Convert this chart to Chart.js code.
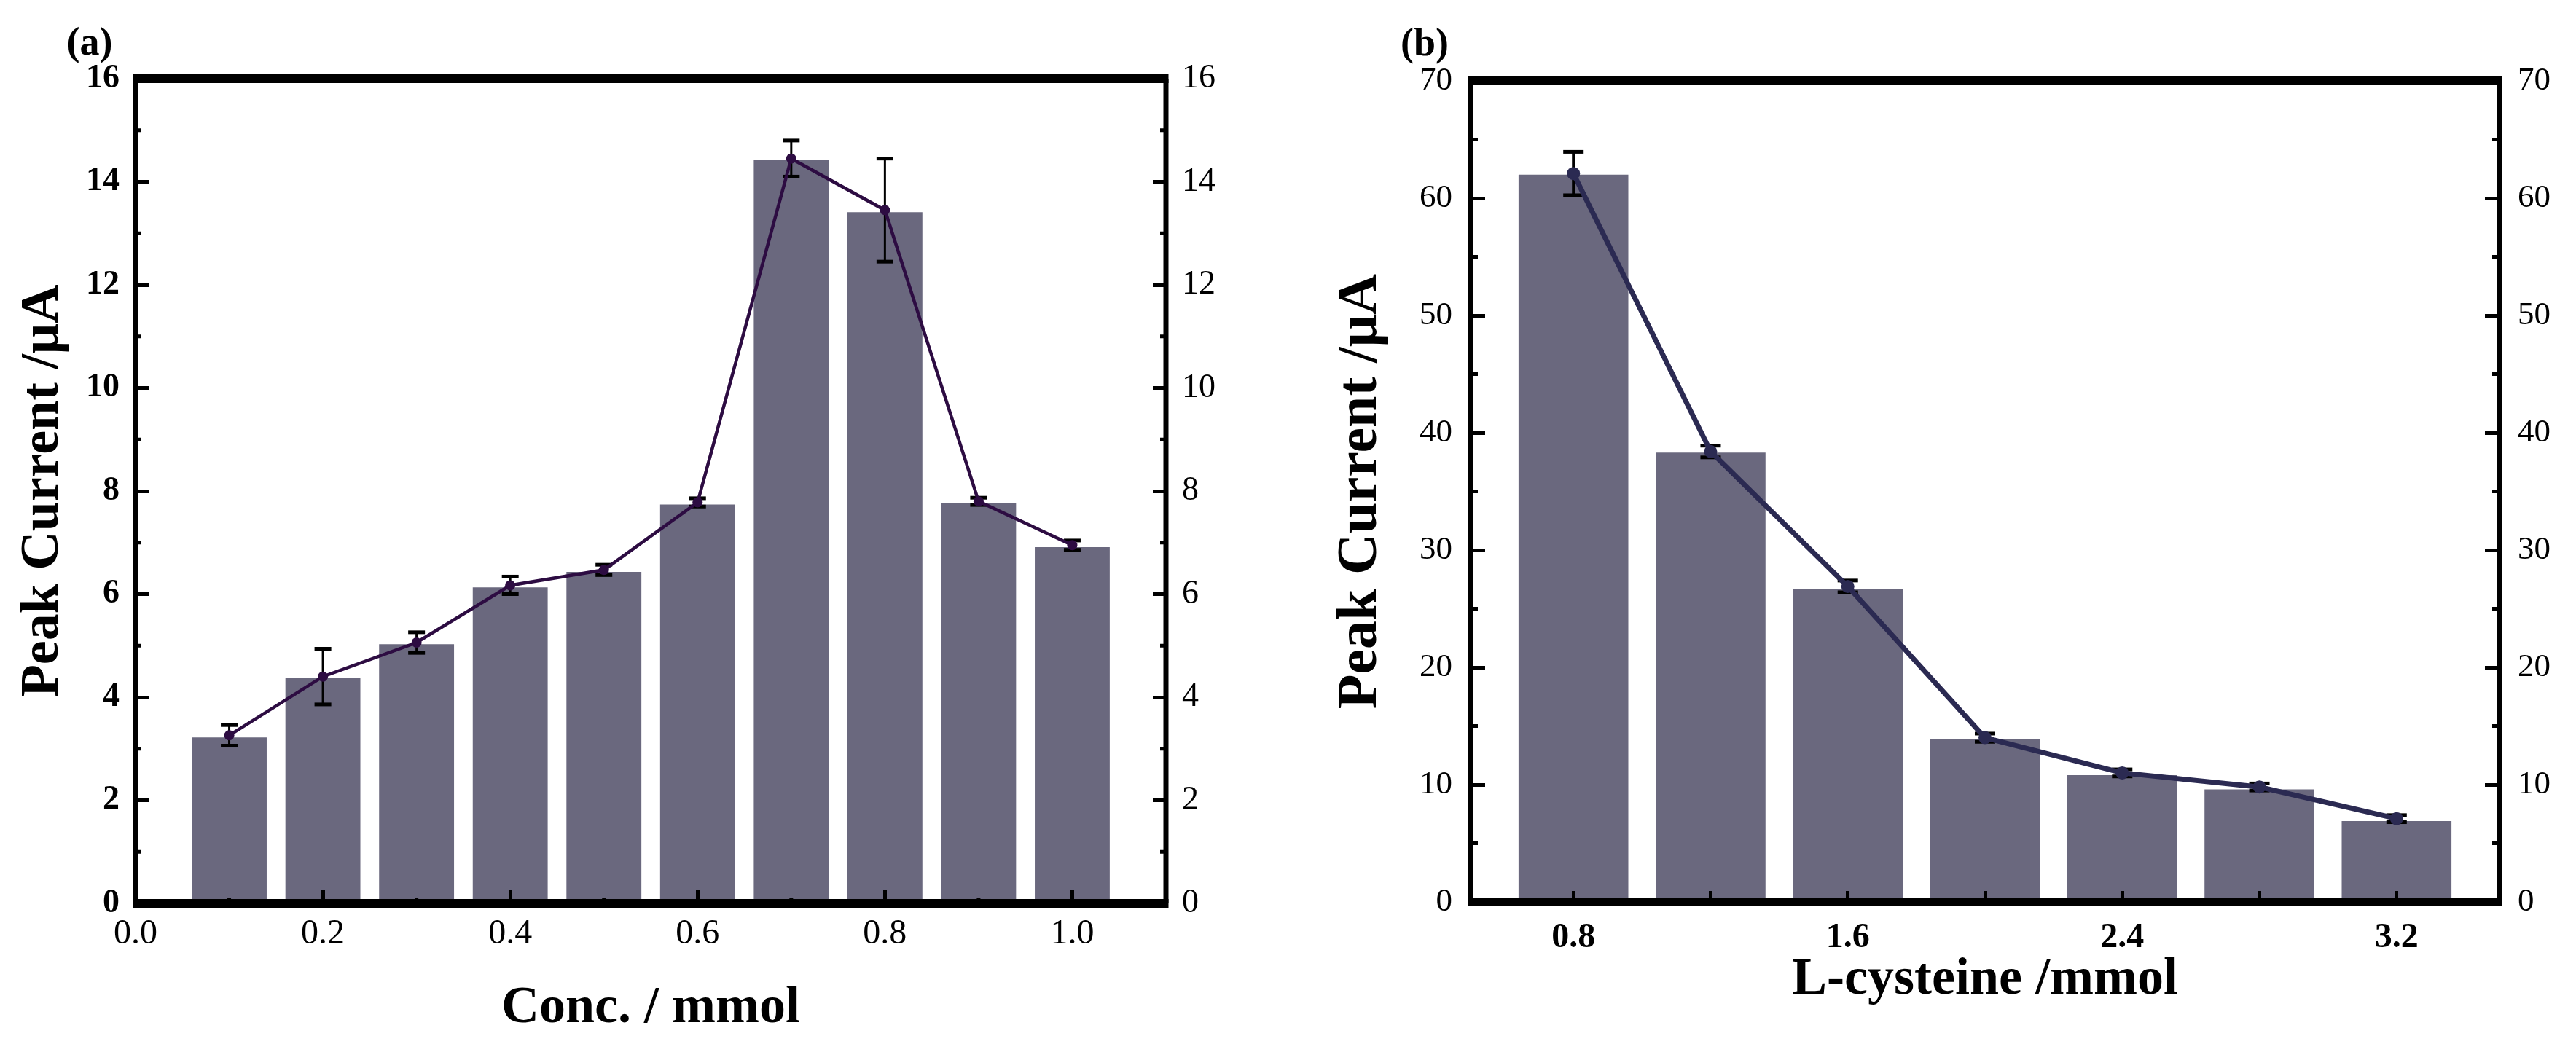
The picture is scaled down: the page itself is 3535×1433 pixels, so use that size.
<!DOCTYPE html>
<html>
<head>
<meta charset="utf-8">
<script src="https://cdn.jsdelivr.net/npm/chart.js@4.4.1/dist/chart.umd.min.js"></script>
<style>
  html, body { margin: 0; padding: 0; background: #fff; }
  #wrap { position: relative; width: 3535px; height: 1433px; overflow: hidden; }
  canvas { position: absolute; top: 0; }
  #chartA { left: 0; }
  #chartB { left: 1768px; }
</style>
</head>
<body>
<div id="wrap">
  <canvas id="chartA" width="1768" height="1433"></canvas>
  <canvas id="chartB" width="1767" height="1433"></canvas>
</div>
<script>
// (a) peak current vs. concentration
const concA = [0.1, 0.2, 0.3, 0.4, 0.5, 0.6, 0.7, 0.8, 0.9, 1.0];
const barA = [3.22, 4.37, 5.03, 6.13, 6.43, 7.74, 14.42, 13.41, 7.77, 6.91];
const lineA = [3.26, 4.40, 5.06, 6.17, 6.47, 7.78, 14.45, 13.45, 7.80, 6.95];
const errA = [0.20, 0.54, 0.20, 0.17, 0.10, 0.08, 0.35, 1.00, 0.07, 0.09];
const xTicksA = ['0.0', '0.2', '0.4', '0.6', '0.8', '1.0'];
const yTicksA = [0, 2, 4, 6, 8, 10, 12, 14, 16];

// (b) peak current vs. L-cysteine
const cysB = [0.8, 1.2, 1.6, 2.0, 2.4, 2.8, 3.2];
const barB = [62.0, 38.3, 26.7, 13.9, 10.8, 9.6, 6.9];
const lineB = [62.1, 38.4, 26.9, 14.0, 11.0, 9.8, 7.1];
const errB = [1.85, 0.50, 0.50, 0.35, 0.30, 0.30, 0.30];
const xTicksB = ['0.8', '1.6', '2.4', '3.2'];
const yTicksB = [0, 10, 20, 30, 40, 50, 60, 70];

const SERIF = "'Liberation Serif', 'Times New Roman', serif";
const BAR_COLOR = '#6a687e';

// frame, minor ticks, panel label and error bars
const framePlugin = {
  id: 'frame',
  beforeDatasetDraw(chart, args, opts) {
    const ds = chart.data.datasets[args.index];
    if (!ds.errorBars) return;
    const yScale = chart.scales[args.meta.yAxisID];
    const ctx = chart.ctx;
    ctx.save();
    ctx.strokeStyle = '#000';
    ctx.fillStyle = '#000';
    ctx.lineWidth = opts.errWidth;
    args.meta.data.forEach((el, i) => {
      const v = ds.data[i].y;
      const e = ds.errorBars[i];
      const yTop = yScale.getPixelForValue(v + e);
      const yBot = yScale.getPixelForValue(v - e);
      ctx.beginPath();
      ctx.moveTo(el.x, yTop);
      ctx.lineTo(el.x, yBot);
      ctx.stroke();
      const cw = opts.capWidth;
      ctx.fillRect(el.x - cw / 2, yTop - 2.5, cw, 5);
      ctx.fillRect(el.x - cw / 2, yBot - 2.5, cw, 5);
    });
    ctx.restore();
  },
  afterDraw(chart, args, opts) {
    const ctx = chart.ctx;
    const a = chart.chartArea;
    ctx.save();
    ctx.fillStyle = '#000';
    // minor ticks
    const drawMinor = (scale, step, len, side) => {
      const major = scale.options.ticks.stepSize;
      for (let v = scale.min + step; v < scale.max - 1e-9; v += step) {
        const r = v / major;
        if (Math.abs(r - Math.round(r)) < 1e-6) continue;
        const p = scale.getPixelForValue(v);
        if (side === 'bottom') ctx.fillRect(p - 2.5, a.bottom - len, 5, len);
        if (side === 'left') ctx.fillRect(a.left, p - 2.5, len, 5);
        if (side === 'right') ctx.fillRect(a.right - len, p - 2.5, len, 5);
      }
    };
    if (opts.minorX) drawMinor(chart.scales.x, opts.minorX, opts.minorLen, 'bottom');
    if (opts.minorY) {
      drawMinor(chart.scales.y, opts.minorY, opts.minorLen, 'left');
      drawMinor(chart.scales.y2, opts.minorY, opts.minorLen, 'right');
    }
    // frame
    const w = a.right - a.left, h = a.bottom - a.top;
    ctx.fillRect(a.left - 3.5, a.top - 6, w + 7, 12);
    ctx.fillRect(a.left - 3.5, a.bottom - 6, w + 7, 12);
    ctx.fillRect(a.left - 3.5, a.top, 7, h);
    ctx.fillRect(a.right - 3.5, a.top, 7, h);
    // panel label
    ctx.font = 'bold ' + opts.labelSize + 'px ' + SERIF;
    ctx.textAlign = 'center';
    ctx.textBaseline = 'middle';
    ctx.fillText(opts.label, opts.labelX, opts.labelY);
    ctx.restore();
  }
};

function yAxis(position, ticks, font, fitWidth, tickPad, tickLen, title) {
  return {
    type: 'linear',
    position: position,
    min: ticks[0],
    max: ticks[ticks.length - 1],
    afterFit: (s) => { s.width = fitWidth; },
    border: { display: false },
    grid: {
      display: true, drawOnChartArea: false, drawTicks: true,
      tickLength: -tickLen, tickWidth: 5, tickColor: '#000', z: 1
    },
    ticks: {
      stepSize: ticks[1] - ticks[0],
      autoSkip: false,
      padding: tickPad,
      color: '#000',
      font: { family: SERIF, size: font.size, weight: font.weight }
    },
    title: title
  };
}

function makeChart(id, cfg) {
  return new Chart(document.getElementById(id), {
    type: 'bar',
    data: {
      datasets: [
        {
          type: 'line',
          data: cfg.xs.map((x, i) => ({ x: x, y: cfg.line[i] })),
          errorBars: cfg.err,
          borderColor: cfg.lineColor,
          backgroundColor: cfg.lineColor,
          borderWidth: cfg.lineWidth,
          pointRadius: cfg.pointRadius,
          pointBorderWidth: 0,
          pointBackgroundColor: cfg.lineColor,
          tension: 0,
          order: 0
        },
        {
          type: 'bar',
          data: cfg.xs.map((x, i) => ({ x: x, y: cfg.bar[i] })),
          backgroundColor: BAR_COLOR,
          borderWidth: 0,
          barPercentage: 0.8,
          categoryPercentage: 1.0,
          order: 1
        }
      ]
    },
    options: {
      responsive: false,
      animation: false,
      devicePixelRatio: 1,
      layout: { padding: { top: cfg.top, left: 0, right: 0, bottom: 0 } },
      plugins: {
        legend: { display: false },
        tooltip: { enabled: false },
        frame: cfg.frame
      },
      scales: {
        x: {
          type: 'linear',
          position: 'bottom',
          min: cfg.xMin,
          max: cfg.xMax,
          offset: false,
          afterFit: (s) => { s.height = cfg.xHeight; },
          border: { display: false },
          grid: {
            display: true, offset: false, drawOnChartArea: false, drawTicks: true,
            tickLength: -cfg.xTickLen, tickWidth: 5, tickColor: '#000', z: 1
          },
          ticks: {
            stepSize: cfg.xStep,
            includeBounds: false,
            autoSkip: false,
            maxRotation: 0,
            padding: cfg.xTickPad,
            color: '#000',
            font: { family: SERIF, size: cfg.xFont.size, weight: cfg.xFont.weight },
            callback: (v) => {
              const s = Number(v).toFixed(1);
              return cfg.xLabels.includes(s) ? s : '';
            }
          },
          title: {
            display: true,
            text: cfg.xTitle,
            color: '#000',
            padding: { top: 0, bottom: cfg.xTitlePad },
            font: { family: SERIF, size: 72, weight: 'bold', lineHeight: 1 }
          }
        },
        y: yAxis('left', cfg.yTicks, cfg.yFont, cfg.yWidth, cfg.yTickPad, cfg.yTickLen, {
          display: true,
          text: 'Peak Current /\u03bcA',
          color: '#000',
          padding: { top: cfg.yTitlePad, bottom: 0 },
          font: { family: SERIF, size: cfg.yTitleSize, weight: 'bold', lineHeight: 1 }
        }),
        y2: yAxis('right', cfg.yTicks, cfg.y2Font, cfg.y2Width, cfg.yTickPad, cfg.yTickLen, { display: false })
      }
    },
    plugins: [framePlugin]
  });
}

makeChart('chartA', {
  xs: concA, bar: barA, line: lineA, err: errA,
  lineColor: '#2d0c42', lineWidth: 4.5, pointRadius: 7,
  xMin: 0, xMax: 1.1, xStep: 0.2, xLabels: xTicksA, xTickLen: 18,
  xFont: { size: 48, weight: 'normal' },
  yTicks: yTicksA, yTickLen: 18,
  yFont: { size: 46, weight: 'bold' }, y2Font: { size: 46, weight: 'normal' },
  top: 108, xHeight: 193, yWidth: 186, y2Width: 168,
  xTickPad: 32, yTickPad: 40, xTitle: 'Conc. / mmol', xTitlePad: 13,
  yTitleSize: 74, yTitlePad: 23,
  frame: { minorX: 0.1, minorY: 1, minorLen: 8, errWidth: 3, capWidth: 23,
           label: '(a)', labelX: 123, labelY: 61, labelSize: 54 }
});

makeChart('chartB', {
  xs: cysB, bar: barB, line: lineB, err: errB,
  lineColor: '#2b2a52', lineWidth: 7, pointRadius: 9,
  xMin: 0.5, xMax: 3.5, xStep: 0.4, xLabels: xTicksB, xTickLen: 15,
  xFont: { size: 48, weight: 'bold' },
  yTicks: yTicksB, yTickLen: 20,
  yFont: { size: 45, weight: 'normal' }, y2Font: { size: 45, weight: 'normal' },
  top: 111, xHeight: 195, yWidth: 250, y2Width: 105,
  xTickPad: 36, yTickPad: 45, xTitle: 'L-cysteine /mmol', xTitlePad: 52,
  yTitleSize: 78, yTitlePad: 61,
  frame: { minorX: 0, minorY: 5, minorLen: 10, errWidth: 4, capWidth: 28,
           label: '(b)', labelX: 187, labelY: 62, labelSize: 54 }
});
</script>
</body>
</html>
